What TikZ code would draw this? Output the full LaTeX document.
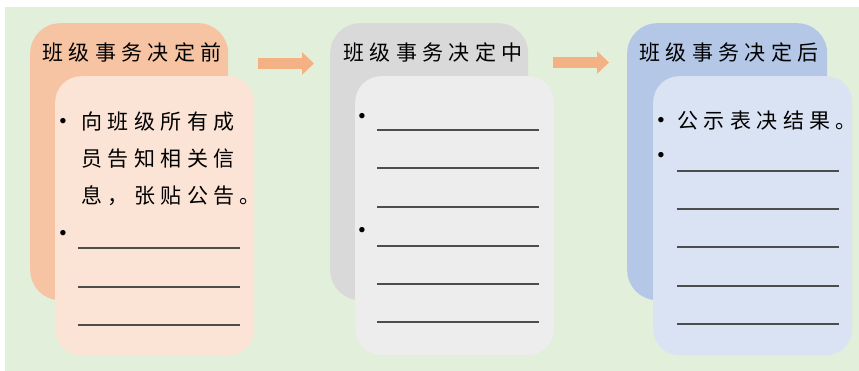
\documentclass[tikz,border=0pt]{standalone}
\usepackage{fontspec}
\usepackage{tikz}
\usetikzlibrary{arrows.meta}
\newfontfamily\cjk[LetterSpace=26]{Noto Sans CJK SC}
\definecolor{bggreen}{HTML}{E2EFDA}
\definecolor{backorange}{HTML}{F6C4A2}
\definecolor{frontorange}{HTML}{FBE4D6}
\definecolor{backgray}{HTML}{D9D9D9}
\definecolor{frontgray}{HTML}{EDEDED}
\definecolor{backblue}{HTML}{B4C7E7}
\definecolor{frontblue}{HTML}{DAE3F3}
\definecolor{arroworange}{HTML}{F4B183}
\definecolor{linegray}{HTML}{4D4D4D}

\tikzset{
    backcard/.style={rounded corners=30pt, minimum width=198pt, minimum height=277pt, anchor=north west, inner sep=0},
    frontcard/.style={rounded corners=26pt, minimum width=199pt, minimum height=279pt, anchor=north west, inner sep=0},
    title/.style={font=\cjk\fontsize{21}{24}\selectfont, inner sep=0},
    itemtext/.style={font=\cjk\fontsize{21}{37}\selectfont, align=left, anchor=north west, inner sep=0},
    dot/.style={font=\fontsize{24}{24}\selectfont, inner sep=0},
    blank/.style={linegray, line width=1.5pt},
    bigarrow/.style={arroworange, line width=11pt, -{Triangle[length=12pt, width=22pt]}}
}

\begin{document}
\begin{tikzpicture}[x=1pt, y=-1pt]
            \pgfmathsetmacro{\firstCol}{30}
            \pgfmathsetmacro{\secondCol}{330}
            \pgfmathsetmacro{\thirdCol}{627}

            \useasboundingbox (0,0) rectangle (859,371);
            \fill[bggreen] (5,7) rectangle (859,371);

            % first stage: before the decision
            \node[backcard, fill=backorange] (back1) at (\firstCol, 23) {};
            \node[title] (title1) at (\firstCol+102, 52) {班级事务决定前};
            \node[frontcard, fill=frontorange] (front1) at (\firstCol+25, 76) {};
            \node[dot] (dot11) at (\firstCol+33, 123) {\textbullet};
            \node[itemtext] (text1) at (\firstCol+51, 112) {向班级所有成\\员告知相关信\\息，张贴公告。};
            \node[dot] (dot12) at (\firstCol+33, 235) {\textbullet};
            \foreach \ly in {248, 287, 325}
            \draw[blank] (\firstCol+48, \ly) -- (\firstCol+210, \ly);

            % create next stage
            \node[backcard, fill=backgray] (back2) at (\secondCol, 23) {};
            \node[title] (title2) at (\secondCol+103, 52) {班级事务决定中};
            \node[frontcard, fill=frontgray] (front2) at (\secondCol+25, 76) {};
            \node[dot] (dot21) at (\secondCol+32, 118) {\textbullet};
            \node[dot] (dot22) at (\secondCol+32, 232) {\textbullet};
            \foreach \ly in {130, 168, 207, 246, 284, 322}
            \draw[blank] (\secondCol+47, \ly) -- (\secondCol+209, \ly);

            % create next stage
            \node[backcard, fill=backblue, minimum width=200pt] (back3) at (\thirdCol, 23) {};
            \node[title] (title3) at (\thirdCol+102, 52) {班级事务决定后};
            \node[frontcard, fill=frontblue] (front3) at (\thirdCol+26, 76) {};
            \node[dot] (dot31) at (\thirdCol+34, 122) {\textbullet};
            \node[itemtext] (text3) at (\thirdCol+50, 111) {公示表决结果。};
            \node[dot] (dot32) at (\thirdCol+34, 157) {\textbullet};
            \foreach \ly in {171, 209, 247, 286, 324}
            \draw[blank] (\thirdCol+50, \ly) -- (\thirdCol+212, \ly);

            % arrows between the stages
            \coordinate (a1s) at (258, 63.5);
            \coordinate (a1e) at (314, 63.5);
            \coordinate (a2s) at (553, 62.5);
            \coordinate (a2e) at (609, 62.5);
            \draw[bigarrow] (a1s) -- (a1e);
            \draw[bigarrow] (a2s) -- (a2e);

        \end{tikzpicture}
\end{document}
